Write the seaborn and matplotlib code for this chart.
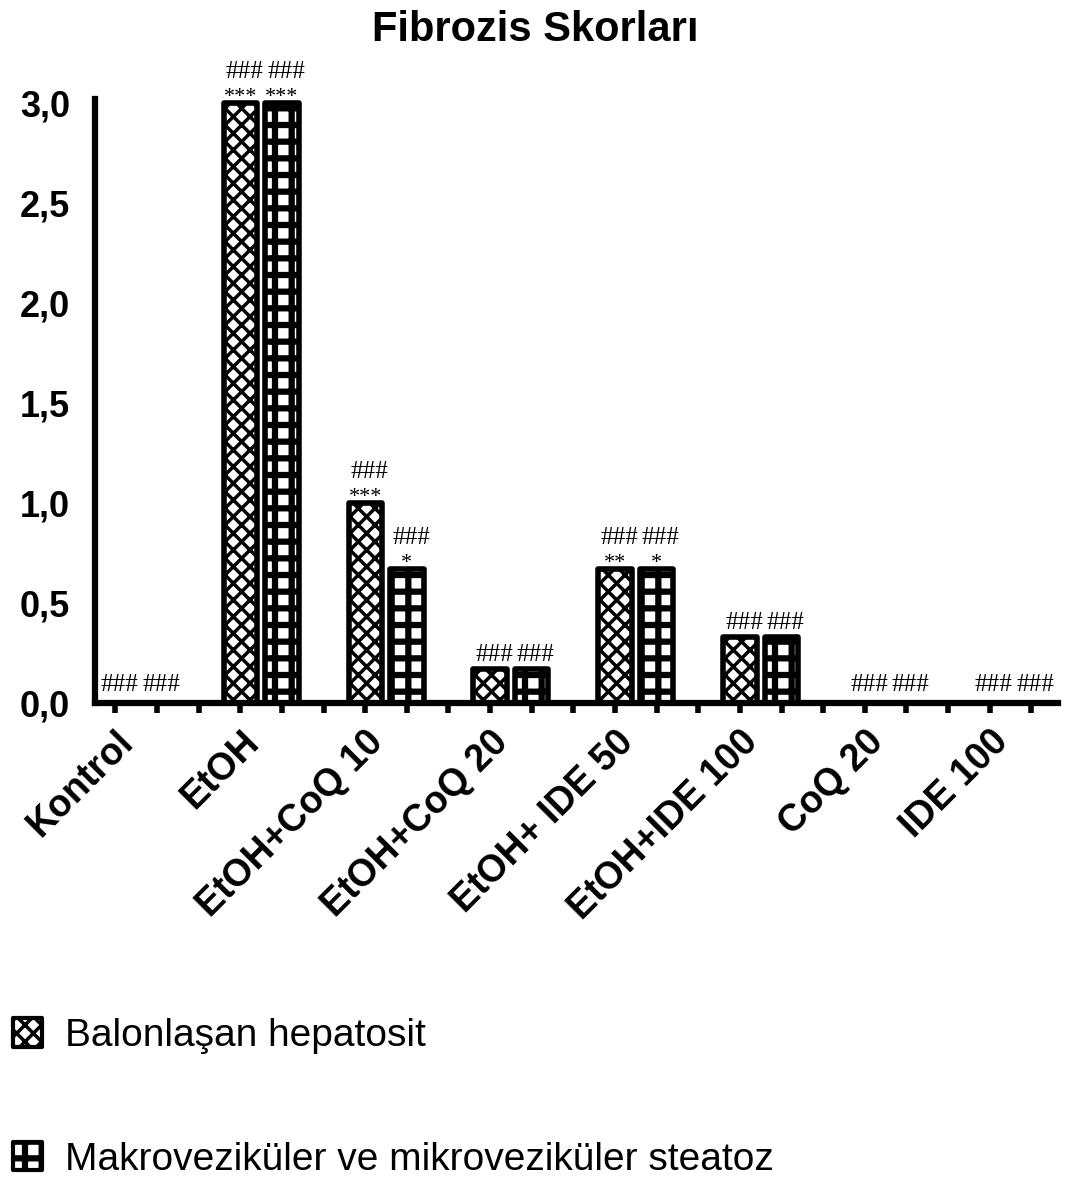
import numpy as np
import pandas as pd
import matplotlib
matplotlib.use('Agg')
import matplotlib.pyplot as plt
import matplotlib.transforms as mtransforms
import seaborn as sns
from matplotlib.patches import Patch

# veri
gruplar = ['Kontrol', 'EtOH', 'EtOH+CoQ 10', 'EtOH+CoQ 20', 'EtOH+ IDE 50',
           'EtOH+IDE 100', 'CoQ 20', 'IDE 100']
seriler = ['Balonlaşan hepatosit', 'Makroveziküler ve mikroveziküler steatoz']
balonlasan = [0, 3.0, 1.0, 0.17, 0.67, 0.33, 0, 0]
steatoz = [0, 3.0, 0.67, 0.17, 0.67, 0.33, 0, 0]
yildiz_bal = ['', '***', '***', '', '**', '', '', '']
yildiz_ste = ['', '***', '*', '', '*', '', '', '']
diyez_bal = ['###'] * 8
diyez_ste = ['###'] * 8

df = pd.DataFrame({
    'grup': gruplar * 2,
    'seri': [seriler[0]] * 8 + [seriler[1]] * 8,
    'skor': balonlasan + steatoz,
})

sns.set_style('white')
plt.rcParams['font.family'] = ['Liberation Sans', 'DejaVu Sans']
for k in ['text.color', 'axes.labelcolor', 'xtick.color', 'ytick.color']:
    plt.rcParams[k] = 'black'
plt.rcParams['hatch.linewidth'] = 2.5
plt.rcParams['hatch.color'] = 'black'

fig = plt.figure(figsize=(10.7, 11.82), dpi=100)
ax = fig.add_axes([0.0888, 0.4052, 0.9, 0.5111])

sns.barplot(data=df, x='grup', y='skor', hue='seri', order=gruplar,
            hue_order=seriler, palette=['white', 'white'], edgecolor='black',
            linewidth=4, width=2 / 3, gap=0.2, legend=False, ax=ax)

hatches = ['xx', '+']
hatch_lw = [2.5, 4.5]
for cont, h, hl in zip(ax.containers, hatches, hatch_lw):
    for p in cont.patches:
        p.set_hatch(h)
        if hasattr(p, 'set_hatch_linewidth'):
            p.set_hatch_linewidth(hl)
        p.set_joinstyle('round')
        p.set_clip_on(False)

# isaretler
for cont, stars, hashes in zip(ax.containers, [yildiz_bal, yildiz_ste],
                               [diyez_bal, diyez_ste]):
    for p, s, hs in zip(cont.patches, stars, hashes):
        xc = p.get_x() + p.get_width() / 2
        top = p.get_height()
        if s:
            ax.annotate(s, (xc, top), xytext=(0, 1), textcoords='offset points',
                        ha='center', va='baseline', fontsize=16,
                        family='Liberation Serif', annotation_clip=False)
            off = 18
        else:
            off = 6 if top > 0 else 9
        ax.annotate(hs, (xc, top), xytext=(3, off), textcoords='offset points',
                    ha='center', va='baseline', fontsize=18,
                    family='Liberation Serif', annotation_clip=False)

ax.set_xlim(-0.33, 7.38)
ax.set_ylim(0, 3.02)
ax.set_yticks(np.arange(0, 3.01, 0.5))
ax.set_yticklabels([f'{v:.1f}'.replace('.', ',') for v in np.arange(0, 3.01, 0.5)],
                   fontsize=26, fontweight='bold')
ax.tick_params(axis='y', length=0, pad=18)

ax.set_xticks(range(len(gruplar)))
ax.set_xticklabels(gruplar, rotation=45, ha='right', va='center',
                   rotation_mode='anchor', fontsize=27, fontweight='bold')
ax.tick_params(axis='x', which='major', length=0, pad=24)
shift = mtransforms.ScaledTranslation(-8 / 100, 0, fig.dpi_scale_trans)
for lab in ax.get_xticklabels():
    lab.set_transform(lab.get_transform() + shift)
slots = [i + d for i in range(len(gruplar)) for d in (-1 / 6, 1 / 6, 1 / 2)]
slots = [s for s in slots if s < 7.38]
ax.set_xticks(slots, minor=True)
ax.tick_params(axis='x', which='minor', direction='out', length=7, width=4,
               color='black', bottom=True)

ax.set_xlabel('')
ax.set_ylabel('')
for side in ['top', 'right']:
    ax.spines[side].set_visible(False)
for side in ['left', 'bottom']:
    ax.spines[side].set_linewidth(4.5)
    ax.spines[side].set_color('black')

fig.text(0.5, 1 - 30 / 1182, 'Fibrozis Skorları', ha='center', va='center',
         fontsize=30, fontweight='bold')

handles = [Patch(facecolor='white', edgecolor='black', hatch=h, linewidth=3)
           for h in hatches]
leg = fig.legend(handles, seriler, loc='upper left',
                 bbox_to_anchor=(0.012, 1 - 1018 / 1182),
                 frameon=False, fontsize=28, handlelength=0.75, handleheight=0.75,
                 handletextpad=0.6, labelspacing=2.25, borderpad=0, borderaxespad=0)
for lh, hl in zip(leg.legend_handles, hatch_lw):
    lh.set_joinstyle('round')
    if hasattr(lh, 'set_hatch_linewidth'):
        lh.set_hatch_linewidth(hl)

fig.savefig('out.png', dpi=100)
